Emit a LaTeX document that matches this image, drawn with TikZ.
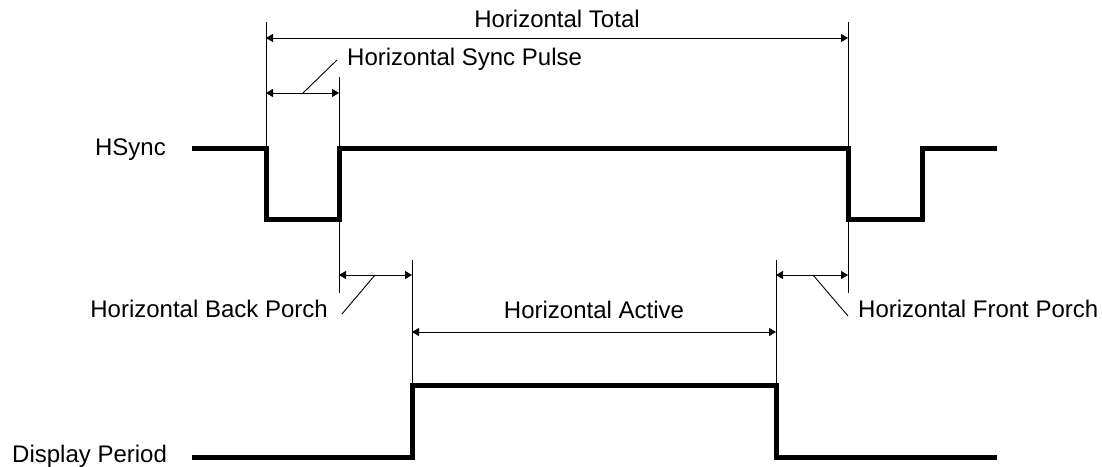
\documentclass[tikz,border=0pt]{standalone}
\usepackage{fontspec}
\setmainfont{Liberation Sans}
\usetikzlibrary{arrows.meta}
\tikzset{
  signal/.style={line width=5pt, line join=miter, black},
  extline/.style={line width=1pt, black},
  dimline/.style={line width=1pt, black, {Triangle[length=7pt,width=8pt]}-{Triangle[length=7pt,width=8pt]}},
  leader/.style={line width=0.9pt, black},
  lbl/.style={inner sep=0pt, font=\fontsize{24}{28}\selectfont}
}
\begin{document}
\begin{tikzpicture}[x=1pt, y=-1pt]
\useasboundingbox (0,0) rectangle (1102,466);
% key coordinates
\coordinate (hs0) at (192,148);
\coordinate (hs1) at (266,148);
\coordinate (hs2) at (266,219);
\coordinate (hs3) at (339,219);
\coordinate (hs4) at (339,148);
\coordinate (hs5) at (848,148);
\coordinate (hs6) at (848,219);
\coordinate (hs7) at (922,219);
\coordinate (hs8) at (922,148);
\coordinate (hs9) at (997,148);
\coordinate (dp0) at (192,457);
\coordinate (dp1) at (412,457);
\coordinate (dp2) at (412,385);
\coordinate (dp3) at (776,385);
\coordinate (dp4) at (776,457);
\coordinate (dp5) at (997,457);
% signals
\draw[signal] (hs0) -- (hs1) -- (hs2) -- (hs3) -- (hs4) -- (hs5) -- (hs6) -- (hs7) -- (hs8) -- (hs9);
\draw[signal] (dp0) -- (dp1) -- (dp2) -- (dp3) -- (dp4) -- (dp5);
% extension lines
\coordinate (e1t) at (266,22);
\coordinate (e2t) at (848,22);
\coordinate (e2b) at (848,293);
\coordinate (e3t) at (339,77);
\coordinate (e3b) at (339,293);
\coordinate (e4t) at (412,260);
\coordinate (e5t) at (776,260);
\draw[extline] (e1t) -- (hs1);
\draw[extline] (e2t) -- (e2b);
\draw[extline] (e3t) -- (e3b);
\draw[extline] (e4t) -- (dp2);
\draw[extline] (e5t) -- (dp3);
% dimension arrows
\coordinate (t0) at (266,38);  \coordinate (t1) at (848,38);
\coordinate (s0) at (266,93);  \coordinate (s1) at (339,93);
\coordinate (b0) at (339,275); \coordinate (b1) at (412,275);
\coordinate (a0) at (412,332); \coordinate (a1) at (776,332);
\coordinate (f0) at (776,275); \coordinate (f1) at (848,275);
\draw[dimline] (t0) -- (t1);
\draw[dimline] (s0) -- (s1);
\draw[dimline] (b0) -- (b1);
\draw[dimline] (a0) -- (a1);
\draw[dimline] (f0) -- (f1);
% labels
\node[lbl, anchor=base] (ltotal) at (557,27) {Horizontal Total};
\node[lbl, anchor=base west] (lsync) at (347,65) {Horizontal Sync Pulse};
\node[lbl, anchor=base east] (lhs) at (166,155) {HSync};
\node[lbl, anchor=base west] (ldp) at (12,462) {Display Period};
\node[lbl, anchor=base east] (lback) at (328,317) {Horizontal Back Porch};
\node[lbl, anchor=base] (lact) at (594,318) {Horizontal Active};
\node[lbl, anchor=base west] (lfront) at (858,317) {Horizontal Front Porch};
% leaders
\coordinate (ls0) at (303,93);  \coordinate (ls1) at (337,60);
\coordinate (lb0) at (375,275); \coordinate (lb1) at (342,314);
\coordinate (lf0) at (813,275); \coordinate (lf1) at (848,316);
\draw[leader] (ls0) -- (ls1);
\draw[leader] (lb0) -- (lb1);
\draw[leader] (lf0) -- (lf1);
\end{tikzpicture}
\end{document}
